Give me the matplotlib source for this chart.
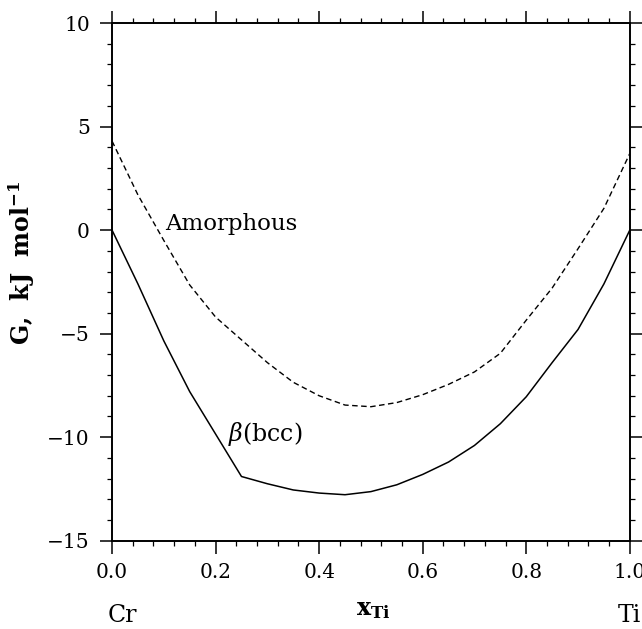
import matplotlib
matplotlib.use("Agg")
import matplotlib.pyplot as plt
from matplotlib.ticker import MultipleLocator

# Gibbs energy of the Cr-Ti phases vs. Ti mole fraction
x_ti = [0.0, 0.05, 0.10, 0.15, 0.20, 0.25, 0.30, 0.35, 0.40, 0.45, 0.50,
        0.55, 0.60, 0.65, 0.70, 0.75, 0.80, 0.85, 0.90, 0.95, 1.0]
g_amorphous = [4.3, 1.7, -0.5, -2.65, -4.2, -5.3, -6.4, -7.35, -8.0, -8.45, -8.53,
               -8.33, -7.95, -7.45, -6.85, -5.95, -4.35, -2.8, -0.9, 1.05, 3.7]
g_bcc = [0.0, -2.6, -5.35, -7.8, -9.85, -11.9, -12.25, -12.55, -12.7, -12.78, -12.63,
         -12.3, -11.8, -11.2, -10.4, -9.35, -8.05, -6.4, -4.8, -2.6, 0.0]

plt.rcParams['font.family'] = 'DejaVu Serif'
plt.rcParams['mathtext.fontset'] = 'dejavuserif'

fig = plt.figure(figsize=(6.42, 6.29), dpi=100)
ax = fig.add_axes([0.1745, 0.1404, 0.8065, 0.823])

ax.plot(x_ti, g_amorphous, color='black', lw=1.0, dashes=(4, 2.5))
ax.plot(x_ti, g_bcc, color='black', lw=1.1)

ax.set_xlim(0, 1)
ax.set_ylim(-15, 10)
ax.xaxis.set_major_locator(MultipleLocator(0.2))
ax.xaxis.set_minor_locator(MultipleLocator(0.04))
ax.yaxis.set_major_locator(MultipleLocator(5))
ax.yaxis.set_minor_locator(MultipleLocator(1))
ax.xaxis.set_major_formatter(plt.FuncFormatter(lambda v, p: f"{v:.1f}"))
ax.yaxis.set_major_formatter(plt.FuncFormatter(lambda v, p: f"{v:.0f}".replace('-', '\u2212')))

for s in ax.spines.values():
    s.set_linewidth(1.4)
ax.tick_params(which='both', direction='out', top=True, right=True,
               labeltop=False, labelright=False, labelsize=14.5)
ax.tick_params(which='major', length=9, width=1.1, pad=7)
ax.tick_params(which='minor', length=3.5, width=0.9)

ax.text(0.102, 0.3, 'Amorphous', fontsize=16.5, ha='left', va='center')
ax.text(0.224, -9.84, r'$\beta$(bcc)', fontsize=17, ha='left', va='center')

# y label placed by hand so it stays inside the figure
fig.text(22 / 642, 1 - 263 / 629, r'G,  kJ  mol$^{\mathbf{-1}}$', fontsize=17,
         fontweight='bold', rotation=90, ha='center', va='center')

ax.text(0.504, -0.133, r'$\mathbf{x}_{\mathbf{Ti}}$', fontsize=17,
        transform=ax.transAxes, ha='center', va='center')
ax.text(0.02, -0.145, 'Cr', fontsize=17, transform=ax.transAxes,
        ha='center', va='center')
ax.text(1.0, -0.145, 'Ti', fontsize=17, transform=ax.transAxes,
        ha='center', va='center')

fig.savefig('out.png', dpi=100)
